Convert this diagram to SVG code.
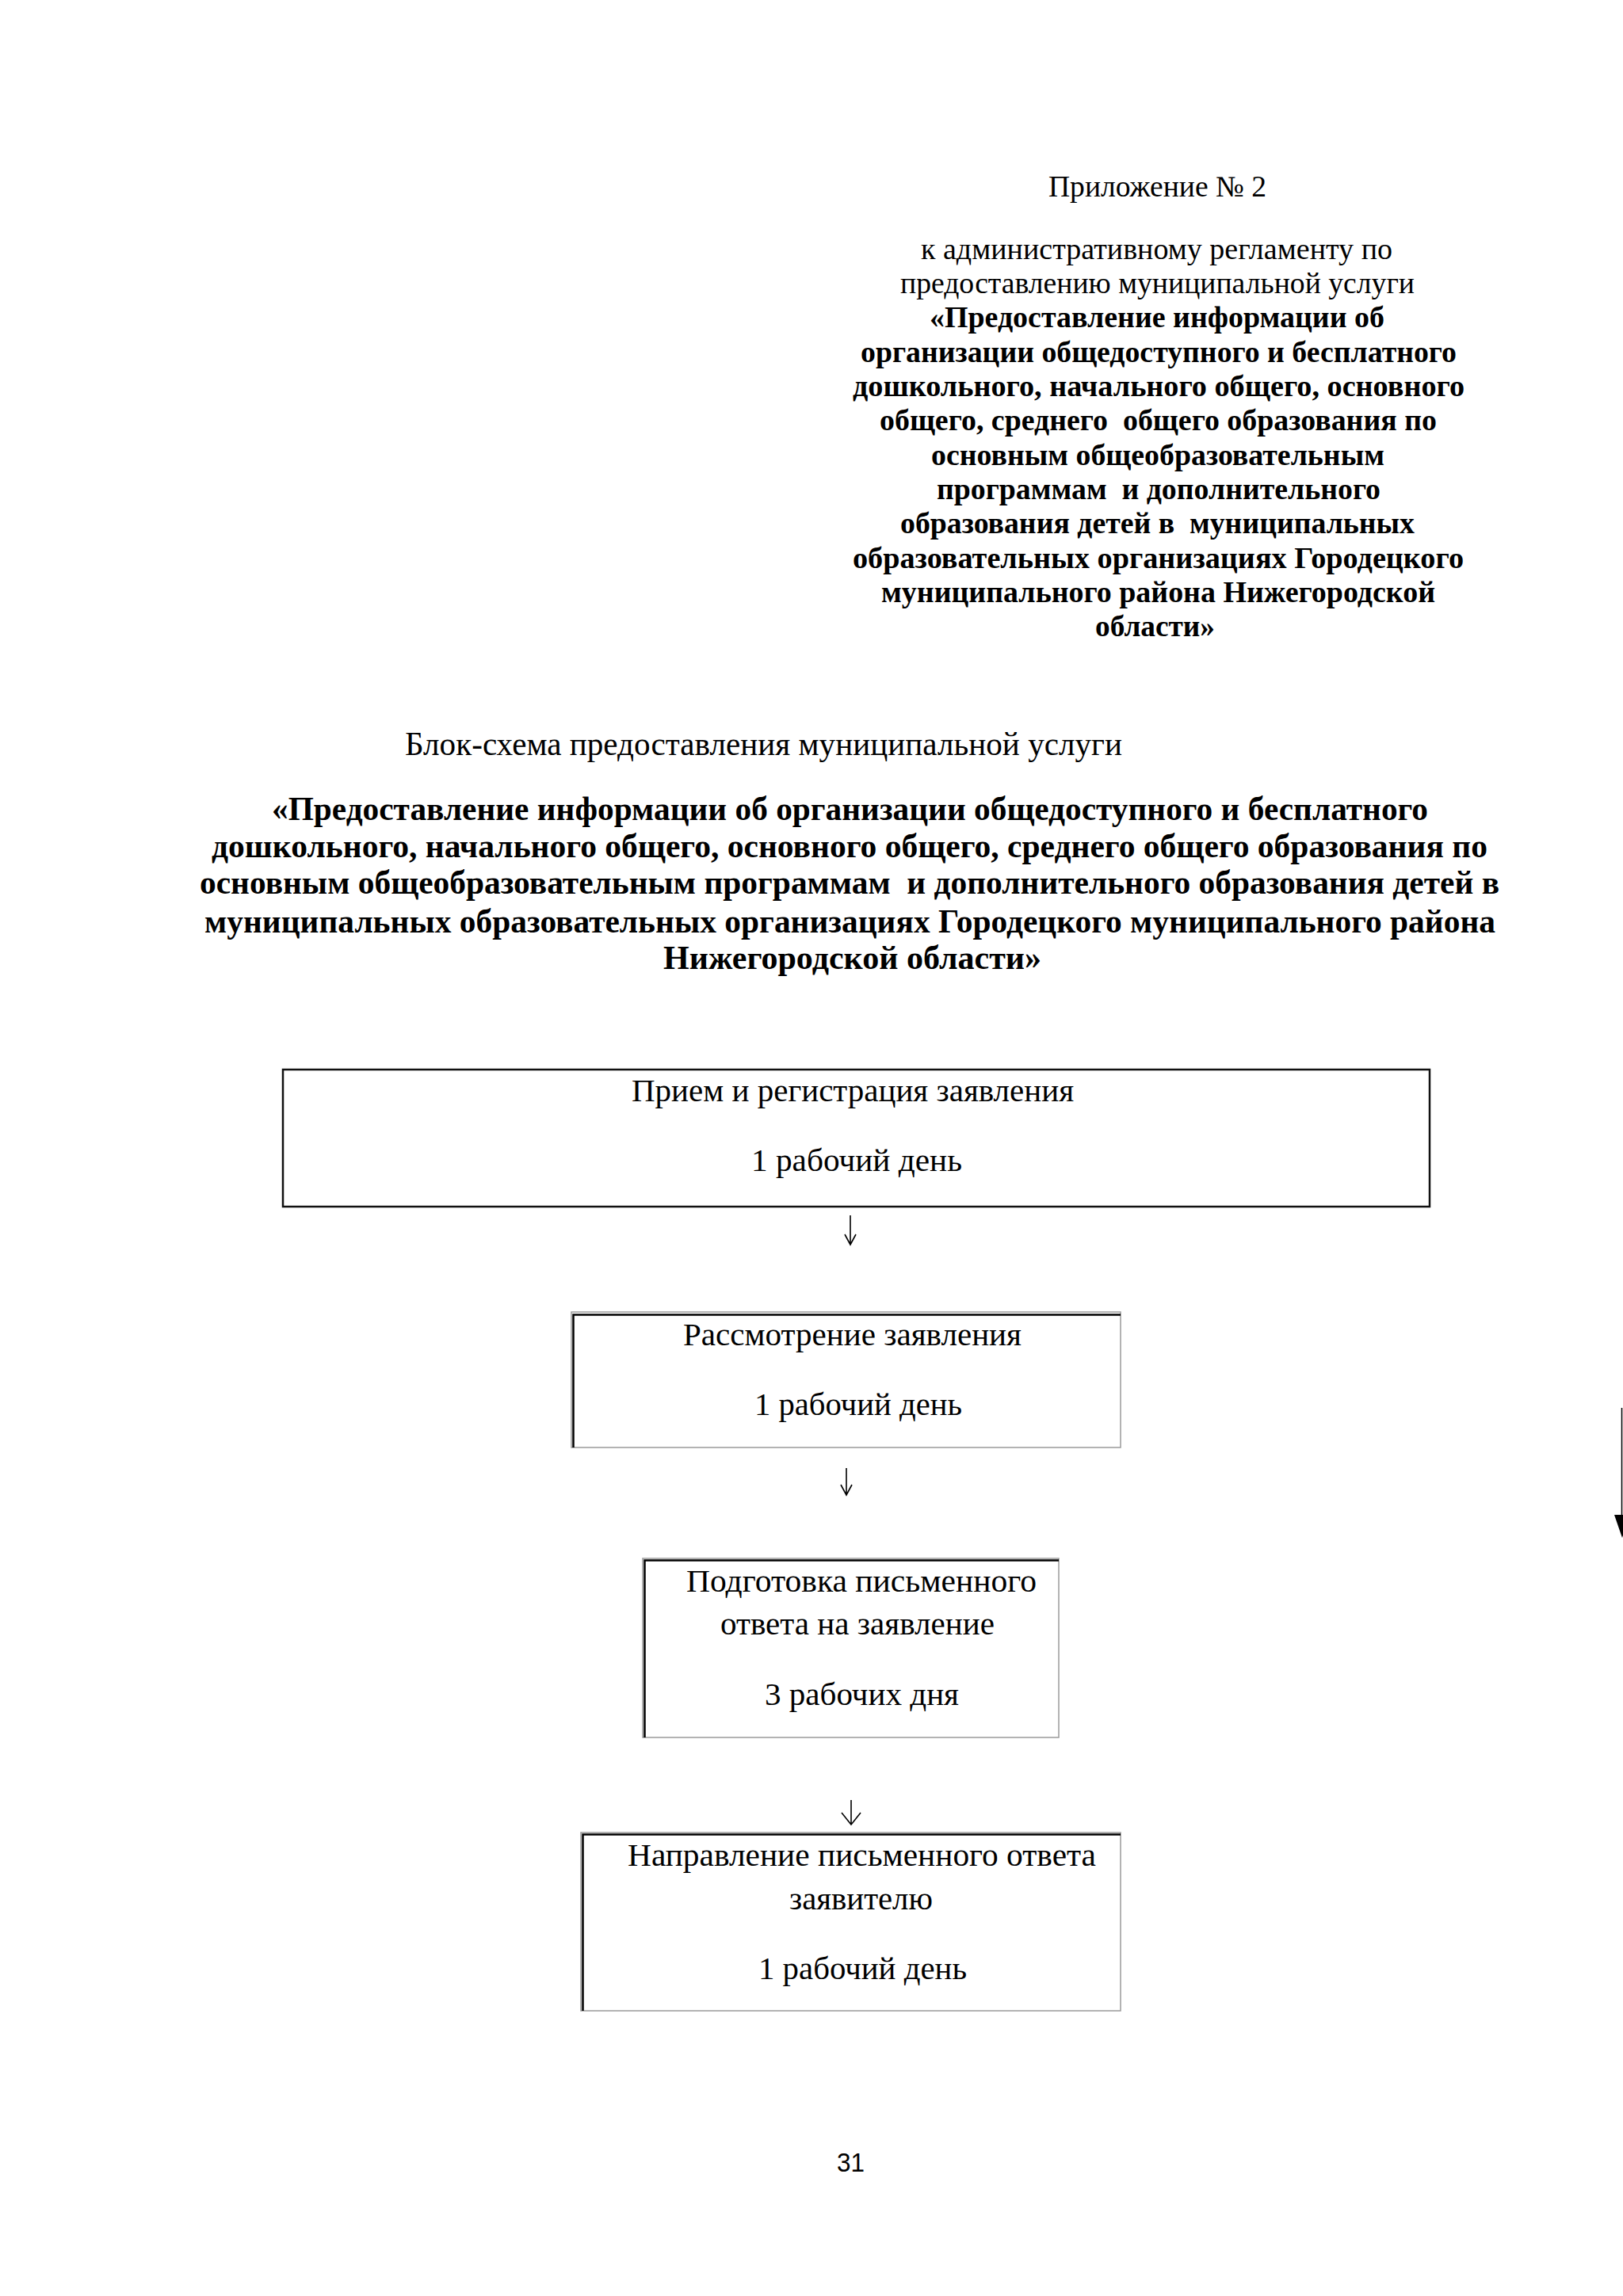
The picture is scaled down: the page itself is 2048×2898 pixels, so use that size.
<svg xmlns="http://www.w3.org/2000/svg" width="2048" height="2898" viewBox="0 0 2048 2898">
<style>
text { font-family: "Liberation Serif", "Times New Roman", Times, serif; fill: #000; }
.hd { font-size: 37.5px; }
.tt { font-size: 41.5px; }
.bx { font-size: 41px; }
.b { font-weight: bold; }
.pg { font-family: "Liberation Sans", Arial, sans-serif; font-size: 33px; }
.frame1 { fill: #fff; stroke: #111; stroke-width: 2.5; }
.frame { fill: #fff; stroke: #9a9a9a; stroke-width: 1.5; }
.edge { fill: none; stroke: #000; stroke-width: 2.5; }
.conn { fill: none; stroke: #000; stroke-width: 1.6; }
</style>
<rect width="2048" height="2898" fill="#fff"/>

<g id="appendix-header">
<text class="hd" x="1323" y="248" textLength="275" lengthAdjust="spacingAndGlyphs">Приложение № 2</text>
<text class="hd" x="1162" y="327" textLength="595" lengthAdjust="spacingAndGlyphs">к административному регламенту по</text>
<text class="hd" x="1136" y="370" textLength="649" lengthAdjust="spacingAndGlyphs">предоставлению муниципальной услуги</text>
<text class="hd b" x="1173" y="413" textLength="574" lengthAdjust="spacingAndGlyphs">«Предоставление информации об</text>
<text class="hd b" x="1086" y="457" textLength="752" lengthAdjust="spacingAndGlyphs">организации общедоступного и бесплатного</text>
<text class="hd b" x="1076" y="500" textLength="772" lengthAdjust="spacingAndGlyphs">дошкольного, начального общего, основного</text>
<text class="hd b" x="1110" y="543" textLength="703" lengthAdjust="spacingAndGlyphs" xml:space="preserve">общего, среднего  общего образования по</text>
<text class="hd b" x="1175" y="587" textLength="572" lengthAdjust="spacingAndGlyphs">основным общеобразовательным</text>
<text class="hd b" x="1182" y="630" textLength="560" lengthAdjust="spacingAndGlyphs" xml:space="preserve">программам  и дополнительного</text>
<text class="hd b" x="1136" y="673" textLength="649" lengthAdjust="spacingAndGlyphs" xml:space="preserve">образования детей в  муниципальных</text>
<text class="hd b" x="1076" y="717" textLength="771" lengthAdjust="spacingAndGlyphs">образовательных организациях Городецкого</text>
<text class="hd b" x="1112" y="760" textLength="699" lengthAdjust="spacingAndGlyphs">муниципального района Нижегородской</text>
<text class="hd b" x="1382" y="803" textLength="151" lengthAdjust="spacingAndGlyphs">области»</text>
</g>

<g id="title">
<text class="tt" x="511" y="953" textLength="905" lengthAdjust="spacingAndGlyphs">Блок-схема предоставления муниципальной услуги</text>
<text class="tt b" x="343" y="1035" textLength="1459" lengthAdjust="spacingAndGlyphs">«Предоставление информации об организации общедоступного и бесплатного</text>
<text class="tt b" x="267" y="1082" textLength="1610" lengthAdjust="spacingAndGlyphs">дошкольного, начального общего, основного общего, среднего общего образования по</text>
<text class="tt b" x="252" y="1128" textLength="1640" lengthAdjust="spacingAndGlyphs" xml:space="preserve">основным общеобразовательным программам  и дополнительного образования детей в</text>
<text class="tt b" x="258" y="1177" textLength="1629" lengthAdjust="spacingAndGlyphs">муниципальных образовательных организациях Городецкого муниципального района</text>
<text class="tt b" x="837" y="1223" textLength="477" lengthAdjust="spacingAndGlyphs">Нижегородской области»</text>
</g>

<g id="node-1">
<rect class="frame1" x="357" y="1350" width="1447" height="173"/>
<text class="bx" x="797" y="1390" textLength="558" lengthAdjust="spacingAndGlyphs">Прием и регистрация заявления</text>
<text class="bx" x="948" y="1478" textLength="266" lengthAdjust="spacingAndGlyphs">1 рабочий день</text>
</g>

<g id="node-2">
<rect class="frame" x="721" y="1656" width="693" height="171"/>
<path class="edge" d="M723.5 1827 V1659.5 H1414"/>
<text class="bx" x="862" y="1698" textLength="427" lengthAdjust="spacingAndGlyphs">Рассмотрение заявления</text>
<text class="bx" x="952" y="1786" textLength="262" lengthAdjust="spacingAndGlyphs">1 рабочий день</text>
</g>

<g id="node-3">
<rect class="frame" x="811" y="1967" width="525" height="226"/>
<path class="edge" d="M813.5 2193 V1969.5 H1336"/>
<text class="bx" x="866" y="2009" textLength="442" lengthAdjust="spacingAndGlyphs">Подготовка письменного</text>
<text class="bx" x="909" y="2063" textLength="346" lengthAdjust="spacingAndGlyphs">ответа на заявление</text>
<text class="bx" x="965" y="2152" textLength="245" lengthAdjust="spacingAndGlyphs">3 рабочих дня</text>
</g>

<g id="node-4">
<rect class="frame" x="733" y="2313" width="681" height="225"/>
<path class="edge" d="M735.5 2538 V2315.5 H1414"/>
<text class="bx" x="792" y="2355" textLength="591" lengthAdjust="spacingAndGlyphs">Направление письменного ответа</text>
<text class="bx" x="996" y="2410" textLength="181" lengthAdjust="spacingAndGlyphs">заявителю</text>
<text class="bx" x="957" y="2498" textLength="263" lengthAdjust="spacingAndGlyphs">1 рабочий день</text>
</g>

<g id="connectors">
<path class="conn" d="M1073 1534 V1571 M1066 1558 L1073 1571 L1080 1558"/>
<path class="conn" d="M1068 1853 V1887 M1061 1874 L1068 1887 L1075 1874"/>
<path class="conn" d="M1074 2272 V2303 M1062 2288 L1074 2303 L1086 2288"/>
<path d="M2046.5 1777 V1915" stroke="#000" stroke-width="1.5" fill="none"/>
<path d="M2037 1912 L2056 1912 L2047 1941 Z" fill="#000"/>
</g>

<g id="page-number">
<text class="pg" x="1056" y="2741" textLength="35" lengthAdjust="spacingAndGlyphs">31</text>
</g>
</svg>
